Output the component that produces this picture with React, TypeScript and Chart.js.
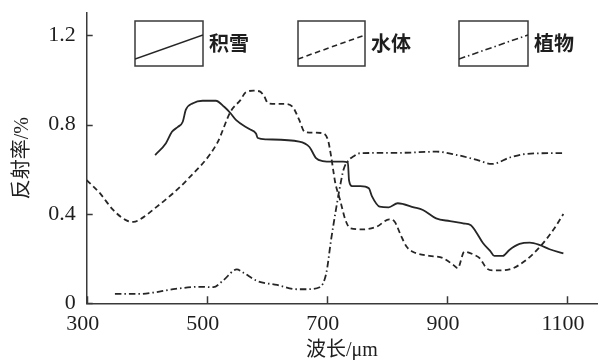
import React, { useEffect, useRef } from "react";
import { Chart, registerables } from "chart.js";

Chart.register(...registerables);

// ---- data ----
const xTicks = [300, 500, 700, 900, 1100];
const yTicks = [0, 0.4, 0.8, 1.2];
const yTickLabels = ["0", "0.4", "0.8", "1.2"];
const seriesNames = ["积雪", "水体", "植物"];
const xTitle = "波长/μm";
const yTitle = "反射率/%";

const snowWave = [414, 432, 442, 452, 460, 465, 477, 493, 515, 529, 540, 549, 571, 582, 585, 599, 654, 671, 682, 693, 710, 727, 735, 737, 742, 756, 770, 775, 788, 803, 818, 845, 860, 882, 905, 927, 940, 948, 960, 972, 979, 993, 1004, 1021, 1038, 1054, 1071, 1094];
const snowRefl = [0.664, 0.717, 0.768, 0.79, 0.813, 0.866, 0.896, 0.907, 0.907, 0.88, 0.85, 0.82, 0.78, 0.76, 0.74, 0.734, 0.724, 0.70, 0.65, 0.637, 0.634, 0.634, 0.63, 0.55, 0.525, 0.525, 0.515, 0.48, 0.433, 0.43, 0.448, 0.43, 0.418, 0.38, 0.368, 0.358, 0.35, 0.322, 0.27, 0.235, 0.212, 0.212, 0.239, 0.266, 0.272, 0.262, 0.242, 0.224];

const waterWave = [300, 322, 344, 367, 378, 389, 417, 444, 467, 517, 540, 556, 565, 578, 589, 596, 602, 617, 630, 643, 654, 663, 680, 694, 702, 707, 711, 714, 722, 731, 739, 761, 783, 804, 813, 824, 833, 843, 871, 893, 911, 918, 929, 946, 955, 966, 977, 1004, 1032, 1055, 1077, 1094];
const waterRefl = [0.552, 0.493, 0.418, 0.37, 0.365, 0.376, 0.433, 0.493, 0.552, 0.716, 0.86, 0.91, 0.945, 0.952, 0.948, 0.925, 0.896, 0.893, 0.893, 0.88, 0.821, 0.768, 0.764, 0.761, 0.73, 0.66, 0.59, 0.54, 0.463, 0.373, 0.336, 0.331, 0.343, 0.376, 0.365, 0.30, 0.253, 0.231, 0.212, 0.203, 0.171, 0.157, 0.231, 0.216, 0.201, 0.157, 0.147, 0.152, 0.194, 0.253, 0.328, 0.40];

const vegWave = [347, 389, 411, 444, 489, 511, 528, 550, 561, 583, 617, 650, 666, 688, 699, 707, 716, 721, 728, 736, 744, 755, 822, 883, 917, 950, 975, 1006, 1032, 1094];
const vegRefl = [0.042, 0.042, 0.048, 0.063, 0.074, 0.072, 0.104, 0.152, 0.137, 0.101, 0.082, 0.063, 0.063, 0.072, 0.134, 0.283, 0.433, 0.51, 0.6, 0.64, 0.657, 0.672, 0.674, 0.679, 0.664, 0.642, 0.624, 0.654, 0.669, 0.673];

// ---- styles ----
const LINE = "#262626";
const AXIS = "#3a3a3a";
const TEXT = "#1e1e1e";
const SERIF = "'Liberation Serif', 'Times New Roman', 'Noto Sans CJK SC', serif";
const CJK = "'Liberation Serif', 'Noto Sans CJK SC', sans-serif";
const dashes = [[], [5.5, 3.5], [6.5, 3, 1.5, 3]];

const toPoints = (xs: number[], ys: number[]) => xs.map((x, i) => ({ x, y: ys[i] }));

const legendBoxes = [
  { x: 135, y: 21, w: 68, h: 45 },
  { x: 298, y: 21, w: 67, h: 45 },
  { x: 459, y: 21, w: 69, h: 45 },
];

const decorPlugin = {
  id: "decor",
  afterDraw(chart: any) {
    const ctx = chart.ctx as CanvasRenderingContext2D;
    const xs = chart.scales.x;
    const ys = chart.scales.y;
    const { left, bottom } = chart.chartArea;
    ctx.save();
    ctx.strokeStyle = AXIS;
    ctx.lineWidth = 1.5;
    ctx.setLineDash([]);
    ctx.beginPath();
    xTicks.forEach((v) => {
      const px = Math.round(xs.getPixelForValue(v)) + 0.5;
      ctx.moveTo(px, bottom);
      ctx.lineTo(px, bottom - 7);
    });
    yTicks.forEach((v) => {
      const py = Math.round(ys.getPixelForValue(v)) + 0.5;
      ctx.moveTo(left, py);
      ctx.lineTo(left + 6, py);
    });
    ctx.stroke();

    // legend
    chart.data.datasets.forEach((ds: any, i: number) => {
      const b = legendBoxes[i];
      ctx.setLineDash([]);
      ctx.strokeStyle = AXIS;
      ctx.lineWidth = 1.5;
      ctx.strokeRect(b.x, b.y, b.w, b.h);
      ctx.save();
      ctx.beginPath();
      ctx.rect(b.x, b.y, b.w, b.h);
      ctx.clip();
      ctx.strokeStyle = LINE;
      ctx.lineWidth = 1.6;
      ctx.setLineDash(ds.borderDash || []);
      ctx.beginPath();
      ctx.moveTo(b.x, b.y + b.h - 7);
      ctx.lineTo(b.x + b.w, b.y + 14);
      ctx.stroke();
      ctx.restore();
      ctx.fillStyle = TEXT;
      ctx.font = "bold 20px 'Noto Sans CJK SC', sans-serif";
      ctx.textBaseline = "middle";
      ctx.textAlign = "left";
      ctx.fillText(ds.label, b.x + b.w + 6, b.y + b.h / 2);
    });
    ctx.restore();
  },
};

export default function App() {
  const ref = useRef<HTMLCanvasElement | null>(null);
  useEffect(() => {
    if (!ref.current) return;
    const series = [
      toPoints(snowWave, snowRefl),
      toPoints(waterWave, waterRefl),
      toPoints(vegWave, vegRefl),
    ];
    const chart = new Chart(ref.current, {
      type: "line",
      data: {
        datasets: series.map((pts, i) => ({
          label: seriesNames[i],
          data: pts,
          borderColor: LINE,
          borderWidth: 1.8,
          borderDash: dashes[i],
          pointRadius: 0,
          fill: false,
          cubicInterpolationMode: "monotone" as const,
        })),
      },
      options: {
        responsive: false,
        animation: false,
        devicePixelRatio: 1,
        layout: { padding: { top: 13, right: 1, left: 0, bottom: 0 } },
        plugins: { legend: { display: false }, tooltip: { enabled: false } },
        scales: {
          x: {
            type: "linear",
            min: 300,
            max: 1150,
            grid: { display: false, drawTicks: false },
            border: { display: true, color: AXIS, width: 1.5 },
            afterBuildTicks: (s: any) => {
              s.ticks = xTicks.map((v) => ({ value: v }));
            },
            afterFit: (s: any) => {
              s.height = 56.7;
              s.paddingLeft = 0;
              s.paddingRight = 0;
            },
            ticks: {
              color: TEXT,
              font: { family: SERIF, size: 22 },
              padding: 8,
              labelOffset: -4,
              maxRotation: 0,
              autoSkip: false,
              callback: (v: any) => String(v),
            },
            title: {
              display: true,
              text: xTitle,
              color: TEXT,
              font: { family: CJK, size: 20, lineHeight: 1.1 },
              padding: { top: 0, bottom: -2 },
            },
          },
          y: {
            type: "linear",
            min: 0,
            max: 1.3,
            grid: { display: false, drawTicks: false },
            border: { display: true, color: AXIS, width: 1.5 },
            afterBuildTicks: (s: any) => {
              s.ticks = yTicks.map((v) => ({ value: v }));
            },
            afterFit: (s: any) => {
              s.width = 86.7;
              s.paddingTop = 0;
              s.paddingBottom = 0;
            },
            ticks: {
              color: TEXT,
              font: { family: SERIF, size: 22 },
              padding: 11,
              autoSkip: false,
              callback: (_v: any, i: number) => yTickLabels[i],
            },
            title: {
              display: true,
              text: yTitle,
              color: TEXT,
              font: { family: CJK, size: 20 },
              padding: { top: 11, bottom: 0 },
            },
          },
        },
      },
      plugins: [decorPlugin],
    });
    return () => chart.destroy();
  }, []);
  return (
    <div style={{ position: "absolute", left: 0, top: 0, width: 598, height: 360, background: "#fff" }}>
      <canvas ref={ref} width={598} height={360} />
    </div>
  );
}
